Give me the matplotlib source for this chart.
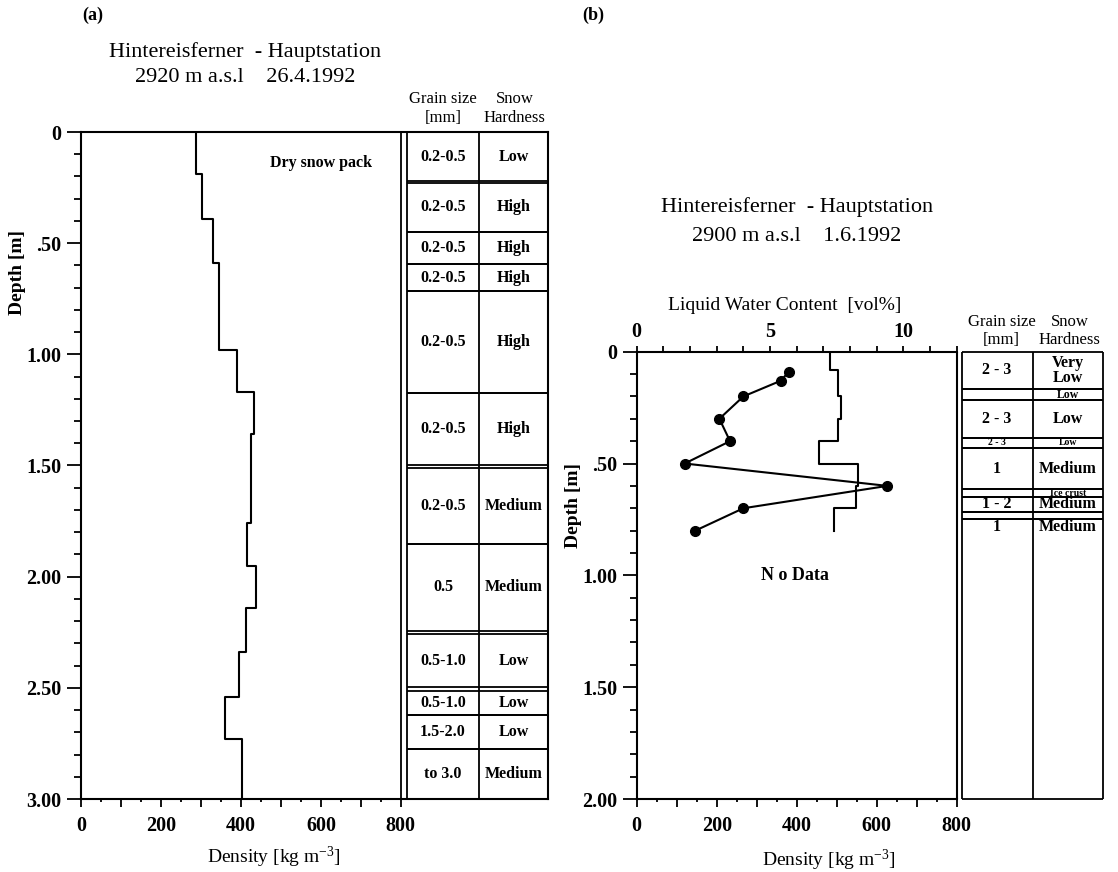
import numpy as np
import matplotlib.pyplot as plt
from matplotlib.ticker import FixedLocator

plt.rcParams['font.family'] = ['Liberation Serif', 'DejaVu Serif']
plt.rcParams['mathtext.default'] = 'regular'

# ---- (a) Hintereisferner - Hauptstation, 26.4.1992 ----
a_depth_edges = [0, 0.19, 0.39, 0.59, 0.98, 1.17, 1.36, 1.76, 1.95, 2.14, 2.34, 2.54, 2.73, 3.00]
a_density = [288, 302, 330, 345, 390, 432, 424, 416, 437, 412, 396, 360, 402]

a_layer_top = [0, 0.230, 0.449, 0.595, 0.716, 1.173, 1.510, 1.852, 2.258, 2.515, 2.62, 2.775]
a_layer_bot = [0.222, 0.449, 0.595, 0.716, 1.173, 1.500, 1.852, 2.245, 2.497, 2.62, 2.775, 3.0]
a_grain = ['0.2-0.5'] * 7 + ['0.5', '0.5-1.0', '0.5-1.0', '1.5-2.0', 'to 3.0']
a_hardness = ['Low', 'High', 'High', 'High', 'High', 'High', 'Medium',
              'Medium', 'Low', 'Low', 'Low', 'Medium']

# ---- (b) Hintereisferner - Hauptstation, 1.6.1992 ----
b_depth_edges = [0, 0.08, 0.20, 0.30, 0.40, 0.50, 0.60, 0.70, 0.80]
b_density = [483, 502, 510, 502, 456, 554, 548, 494]

b_lwc_depth = [0.09, 0.13, 0.20, 0.30, 0.40, 0.50, 0.60, 0.70, 0.80]
b_lwc = [5.7, 5.4, 4.0, 3.1, 3.5, 1.8, 9.4, 4.0, 2.2]

b_layer_top = [0, 0.168, 0.218, 0.385, 0.43, 0.615, 0.651, 0.715, 0.748]
b_layer_bot = [0.168, 0.218, 0.385, 0.43, 0.615, 0.651, 0.715, 0.748, 2.0]
b_grain = ['2 - 3', '', '2 - 3', '2 - 3', '1', '', '1 - 2', '', '1']
b_hardness = ['Very\nLow', 'Low', 'Low', 'Low', 'Medium', 'Ice crust', 'Medium', '', 'Medium']

LWC_PER_DENS = 1 / 66.67   # top axis scale: 12 vol% over 0-800 kg m-3

W, H = 1118, 872


def profile_xy(edges, vals):
    edges = np.asarray(edges, float)
    y = np.column_stack([edges[:-1], edges[1:]]).ravel()
    x = np.repeat(np.asarray(vals, float), 2)
    return x, y


def draw_table(ax, tops, bots, grain, hard, x0, xmid, x1, bottom, top_text_over=None):
    kw = dict(color='k', lw=1.3, clip_on=False, solid_capstyle='butt')
    for x in (x0, xmid, x1):
        ax.plot([x, x], [0, bottom], **kw)
    for t, b, g, h in zip(tops, bots, grain, hard):
        ax.plot([x0, x1], [t, t], **kw)
        ax.plot([x0, x1], [b, b], **kw)
        fs = 11.5
        if (b - t) < 0.06:
            fs = 8.5
        if (b - t) < 0.045:
            fs = 7
        ty = (t + b) / 2
        if top_text_over is not None and (b - t) > top_text_over:
            ty = t + 0.035
        ax.text((x0 + xmid) / 2, ty, g, ha='center', va='center', fontsize=fs,
                fontweight='bold', clip_on=False)
        ax.text((xmid + x1) / 2, ty, h, ha='center', va='center', fontsize=fs,
                fontweight='bold', linespacing=0.9, clip_on=False)


def headers(ax, xg, xh, y1, y2):
    ax.text(xg, y1, 'Grain size', ha='center', va='center', fontsize=12, clip_on=False)
    ax.text(xg, y2, '[mm]', ha='center', va='center', fontsize=12, clip_on=False)
    ax.text(xh, y1, 'Snow', ha='center', va='center', fontsize=12, clip_on=False)
    ax.text(xh, y2, 'Hardness', ha='center', va='center', fontsize=12, clip_on=False)


def style_axes(ax, ymax):
    ax.xaxis.set_major_locator(FixedLocator(np.arange(0, 801, 100)))
    ax.xaxis.set_minor_locator(FixedLocator(np.arange(50, 800, 100)))
    ax.set_xticklabels(['0', '', '200', '', '400', '', '600', '', '800'])
    yt = np.arange(0, ymax + 0.01, 0.5)
    ax.set_yticks(yt)
    ax.set_yticklabels(['0' if v == 0 else ('%.2f' % v).lstrip('0') if v < 1 else '%.2f' % v for v in yt])
    ax.yaxis.set_minor_locator(FixedLocator(np.arange(0, ymax + 0.01, 0.1)))
    ax.tick_params(axis='both', which='both', direction='out', width=1.3,
                   labelsize=14.5, top=False, right=False)
    ax.tick_params(axis='x', which='major', length=6, pad=6)
    ax.tick_params(axis='x', which='minor', length=2.5)
    ax.tick_params(axis='y', which='major', length=10, pad=4)
    ax.tick_params(axis='y', which='minor', length=5)
    for lab in ax.get_xticklabels() + ax.get_yticklabels():
        lab.set_fontweight('bold')
    for s in ax.spines.values():
        s.set_linewidth(1.5)


fig = plt.figure(figsize=(W / 100, H / 100), dpi=100)

# ---------------- panel (a) ----------------
axa = fig.add_axes([81 / W, (H - 799) / H, 467 / W, 667 / H])
axa.set_xlim(0, 1168)
axa.set_ylim(3.0, 0)
style_axes(axa, 3.0)

x, y = profile_xy(a_depth_edges, a_density)
axa.plot(x, y, color='k', lw=1.5)
axa.axvline(800, color='k', lw=1.3)
draw_table(axa, a_layer_top, a_layer_bot, a_grain, a_hardness, 815, 996, 1168, 3.0)
headers(axa, 905, 1085, -0.150, -0.062)
axa.text(600, 0.14, 'Dry snow pack', ha='center', va='center', fontsize=11.5, fontweight='bold')

axa.set_ylabel('Depth [m]', fontsize=14, fontweight='bold')
axa.yaxis.set_label_coords(-0.118, 0.79)
axa.set_xlabel('Density [kg m$^{-3}$]', fontsize=14)
axa.xaxis.set_label_coords(0.414, -0.069)

fig.text(93 / W, 1 - 15 / H, '(a)', ha='center', va='center', fontsize=13, fontweight='bold')
fig.text(245 / W, 1 - 52 / H, 'Hintereisferner  - Hauptstation', ha='center', va='center', fontsize=16)
fig.text(245 / W, 1 - 77 / H, '2920 m a.s.l    26.4.1992', ha='center', va='center', fontsize=16)

# ---------------- panel (b) ----------------
axb = fig.add_axes([636.7 / W, (H - 799) / H, 468 / W, (799 - 351.7) / H])
axb.set_xlim(0, 1170)
axb.set_ylim(2.0, 0)
style_axes(axb, 2.0)
axb.spines['right'].set_visible(False)
axb.spines['bottom'].set_bounds(0, 800)
axb.spines['top'].set_bounds(0, 800)
axb.plot([800, 800], [0, 2.0], color='k', lw=1.5)

x, y = profile_xy(b_depth_edges, b_density)
axb.plot(x, y, color='k', lw=1.5)
axb.plot(np.array(b_lwc) / LWC_PER_DENS, b_lwc_depth, color='k', lw=1.5,
         marker='o', markersize=7)
axb.text(396, 1.0, 'N o Data', ha='center', va='center', fontsize=13, fontweight='bold')

draw_table(axb, b_layer_top, b_layer_bot, b_grain, b_hardness, 812, 990, 1166, 2.0,
           top_text_over=1.0)
headers(axb, 912, 1082, -0.134, -0.052)

secax = axb.secondary_xaxis('top', functions=(lambda d: d * LWC_PER_DENS,
                                              lambda l: l / LWC_PER_DENS))
secax.set_xticks(np.arange(0, 13))
secax.set_xticklabels(['0', '', '', '', '', '5', '', '', '', '', '10', '', ''])
secax.tick_params(direction='out', length=4, width=1.3, labelsize=14.5, pad=3)
for lab in secax.get_xticklabels():
    lab.set_fontweight('bold')
secax.spines['top'].set_visible(False)

axb.set_ylabel('Depth [m]', fontsize=14, fontweight='bold')
axb.yaxis.set_label_coords(-0.117, 0.657)
axb.set_xlabel('Density [kg m$^{-3}$]', fontsize=14)
axb.xaxis.set_label_coords(0.41, -0.108)

fig.text(785 / W, 1 - 305 / H, 'Liquid Water Content  [vol%]', ha='center', va='center', fontsize=14)
fig.text(593 / W, 1 - 15 / H, '(b)', ha='center', va='center', fontsize=13, fontweight='bold')
fig.text(797 / W, 1 - 207 / H, 'Hintereisferner  - Hauptstation', ha='center', va='center', fontsize=16)
fig.text(797 / W, 1 - 236 / H, '2900 m a.s.l    1.6.1992', ha='center', va='center', fontsize=16)

fig.savefig('out.png', dpi=100, facecolor='w')
